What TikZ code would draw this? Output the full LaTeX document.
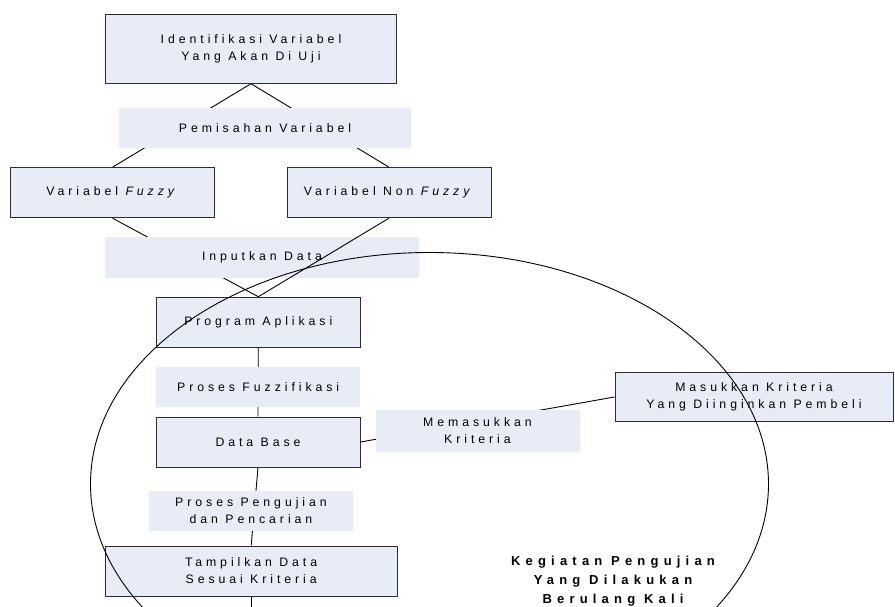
\documentclass[tikz,border=0pt]{standalone}
\usepackage{fontspec}
\setmainfont{Liberation Sans}[LetterSpace=32]
\newfontfamily\wideBold{Liberation Sans}[LetterSpace=40]
\usetikzlibrary{backgrounds}
\definecolor{fillBlue}{RGB}{231, 236, 246}
\definecolor{edgeDark}{RGB}{45, 45, 45}

\begin{document}
\begin{tikzpicture}[
    x=1pt, y=-1pt,
    block/.style={draw=edgeDark, fill=fillBlue, line width=1pt, align=center, inner sep=0pt, minimum width=204pt, minimum height=50pt, font=\fontsize{12.3pt}{16.8pt}\selectfont},
    proc/.style={fill=fillBlue, align=center, inner sep=0pt, minimum width=204pt, minimum height=40pt, font=\fontsize{12.3pt}{16.8pt}\selectfont},
    link/.style={line width=0.9pt, color=black}
  ]
  \useasboundingbox (0,0) rectangle (895,607);
  \clip (0,0) rectangle (895,607);

  % VARIABEL
  \node[block, minimum width=291pt, minimum height=69pt] (ident) at (251, 48.7) {Identifikasi Variabel\\Yang Akan Di Uji};
  \node[proc, minimum width=292pt] (pisah) at (265, 127.7) {Pemisahan Variabel};
  \node[block] (fuzzy) at (112.5, 192.7) {Variabel \textit{Fuzzy}};
  \node[block] (nonfuzzy) at (389, 192.7) {Variabel Non \textit{Fuzzy}};

  % PROGRAM
  \node[proc, minimum width=314pt, minimum height=41pt] (input) at (262, 257.2) {Inputkan Data};
  \node[block] (program) at (258.3, 322.2) {Program Aplikasi};
  \node[proc] (fuzzifikasi) at (258.2, 386.8) {Proses Fuzzifikasi};
  \node[block] (dbase) at (258, 442) {Data Base};
  \node[proc, minimum height=42pt] (kriteria) at (477.5, 431) {Memasukkan\\Kriteria};
  \node[block, minimum width=278pt, minimum height=49.4pt] (masuk) at (754, 397) {Masukkan Kriteria\\Yang Diinginkan Pembeli};

  % HASIL
  \node[proc] (uji) at (251, 511) {Proses Pengujian\\dan Pencarian};
  \node[block, minimum width=291.6pt] (tampil) at (251.2, 571) {Tampilkan Data\\Sesuai Kriteria};
  \coordinate (tail) at (251.2, 650);

  \begin{pgfonlayer}{background}
    \draw[link] (ident.south) -- (fuzzy.north);
    \draw[link] (ident.south) -- (nonfuzzy.north);
    \draw[link] (fuzzy.south) -- (program.north);
    \draw[link] (program.south) -- (dbase.north);
    \draw[link] (dbase.east) -- (masuk.west);
    \draw[link] (dbase.south) -- (tampil.north);
  \end{pgfonlayer}
  \draw[link] (nonfuzzy.south) -- (program.north);
  \draw[link] (tampil.south) -- (tail);

  % ULANG
  \draw[link] (429.5, 484) ellipse [x radius=339pt, y radius=231.5pt];
  \node[align=center, font=\wideBold\fontsize{13pt}{19.3pt}\selectfont\bfseries] (ulang) at (613, 581) {Kegiatan Pengujian\\Yang Dilakukan\\Berulang Kali};
\end{tikzpicture}
\end{document}
